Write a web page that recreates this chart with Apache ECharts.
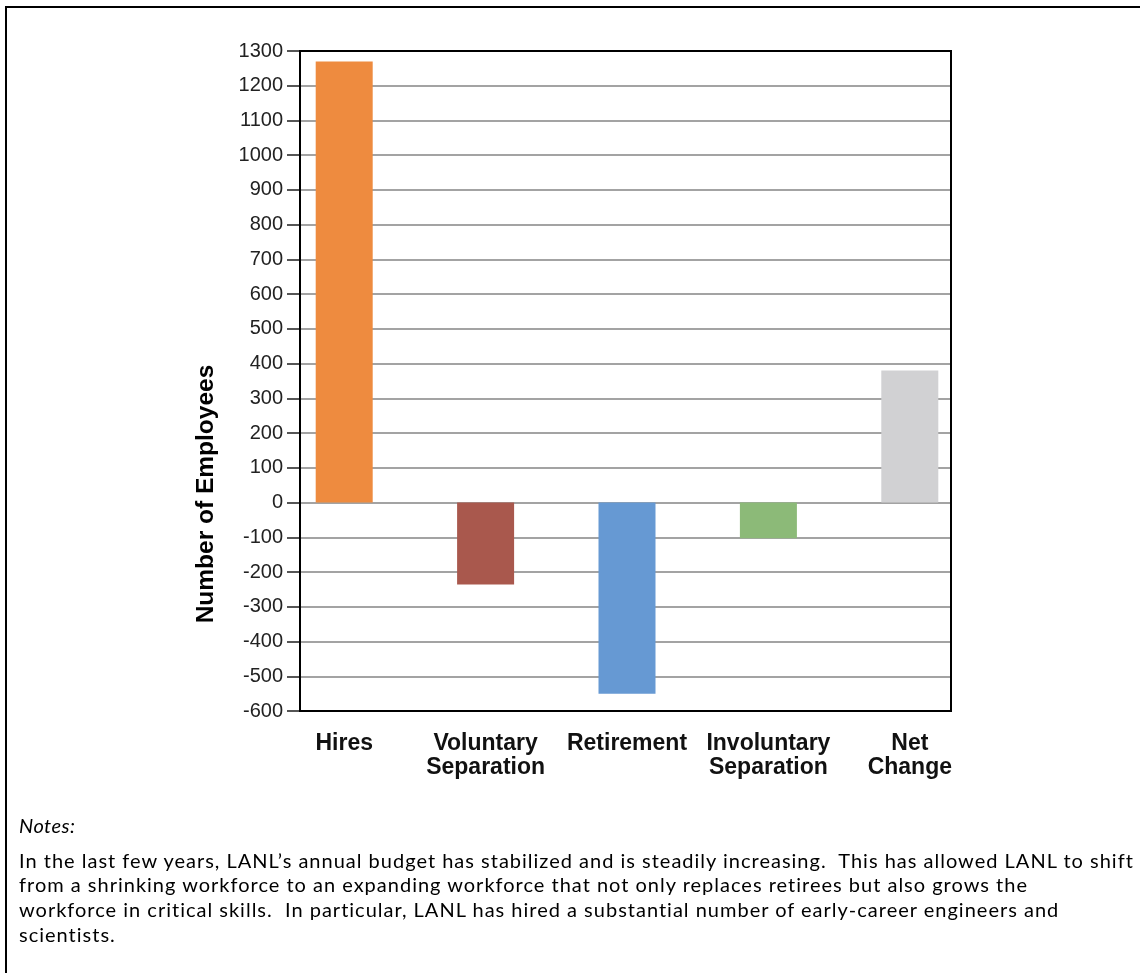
<!DOCTYPE html>
<html>
<head>
<meta charset="utf-8">
<script src="https://cdn.jsdelivr.net/npm/echarts@6/dist/echarts.min.js"></script>
<style>
  html, body { margin: 0; padding: 0; background: #fff; }
  #frame { position: absolute; left: 5px; top: 6px; width: 1200px; height: 1000px;
           border-top: 2px solid #000; border-left: 2px solid #000; }
  #eChartBar { position: absolute; left: 0; top: 0; width: 1140px; height: 973px; }
  #notes { position: absolute; left: 19px; top: 813px; width: 1120px;
           font-family: Lato, "Open Sans", sans-serif; font-size: 20px; color: #000;
           line-height: 24.7px; white-space: nowrap; letter-spacing: 1px; }
  #notes .head { font-style: italic; margin-bottom: 10px; letter-spacing: 0.5px; }
</style>
</head>
<body>
<div id="frame"></div>
<div id="eChartBar"></div>
<div id="notes">
  <div class="head">Notes:</div>
  <div class="line">In the last few years, LANL’s annual budget has stabilized and is steadily increasing.&nbsp; This has allowed LANL to shift</div>
  <div class="line">from a shrinking workforce to an expanding workforce that not only replaces retirees but also grows the</div>
  <div class="line">workforce in critical skills.&nbsp; In particular, LANL has hired a substantial number of early-career engineers and</div>
  <div class="line">scientists.</div>
</div>
<script>
// workforce change categories and head counts
var categories = ['Hires', 'Voluntary\nSeparation', 'Retirement', 'Involuntary\nSeparation', 'Net\nChange'];
var employees = [1270, -236, -550, -103, 380];
var yMin = -600, yMax = 1300, yStep = 100;

var font = '"Liberation Sans", Arial, sans-serif';
var myChart = echarts.init(document.getElementById('eChartBar'));
option = {
    animation: false,
    backgroundColor: 'transparent',
    color: ['#EE8B3F', '#A9584D', '#6699D3', '#8CBA78', '#D1D1D3'],
    textStyle: { fontFamily: font },
    grid: [
        // framed plot box with the value axis
        { left: 300, right: 189, top: 51, bottom: 262, show: true, z: 5,
          borderColor: '#000', borderWidth: 2, backgroundColor: 'transparent' },
        // bars sit on a slightly wider band than the frame
        { left: 273.5, right: 159.5, top: 51, bottom: 262 }
    ],
    graphic: [
        {
            type: 'text',
            x: 206, y: 494,
            rotation: Math.PI / 2,
            style: {
                text: 'Number of Employees',
                fontFamily: font,
                fontWeight: 'bold',
                fontSize: 24.5,
                fill: '#000',
                align: 'center',
                verticalAlign: 'middle'
            }
        }
    ],
    xAxis: [
        { gridIndex: 0, type: 'value', show: false, min: 0, max: 1 },
        {
            gridIndex: 1,
            type: 'category',
            data: categories,
            axisLine: { show: false },
            axisTick: { show: false },
            axisLabel: {
                interval: 0,
                margin: 21,
                fontFamily: font,
                fontSize: 23,
                fontWeight: 'bold',
                color: '#111',
                lineHeight: 24
            }
        }
    ],
    yAxis: [
        {
            gridIndex: 0,
            type: 'value',
            min: yMin, max: yMax, interval: yStep,
            axisLine: { show: true, lineStyle: { color: '#000', width: 2 } },
            axisTick: { show: true, length: 13, lineStyle: { color: '#555', width: 2 } },
            axisLabel: {
                fontFamily: font, fontSize: 20, color: '#222', margin: 17,
                formatter: function (v) { return String(v); }
            },
            splitLine: { lineStyle: { color: '#a3a3a3', width: 2 } }
        },
        {
            gridIndex: 1,
            type: 'value',
            min: yMin, max: yMax, interval: yStep,
            show: false,
            splitLine: { show: false }
        }
    ],
    series: [
        {
            name: 'Number of Employees',
            type: 'bar',
            xAxisIndex: 1,
            yAxisIndex: 1,
            colorBy: 'data',
            barWidth: 57,
            data: employees
        }
    ]
};
myChart.setOption(option);
</script>
</body>
</html>
